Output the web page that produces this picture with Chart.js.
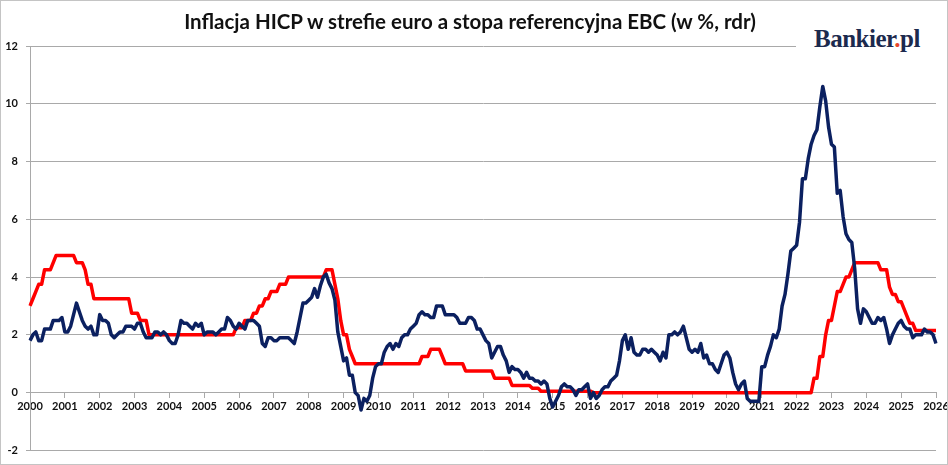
<!DOCTYPE html>
<html>
<head>
<meta charset="utf-8">
<script src="https://cdn.jsdelivr.net/npm/chart.js@4"></script>
<style>
  html, body { margin: 0; padding: 0; background: #fff; }
  #wrap { position: relative; width: 948px; height: 465px; overflow: hidden; }
  #title {
    position: absolute; left: 0; width: 940px; top: 9px; text-align: center;
    font: bold 20.5px 'Lato', sans-serif; color: #111;
  }
  #logo {
    position: absolute; left: 796px; top: 25px; width: 150px; height: 30px;
    background: #fff; font: bold 25px 'Liberation Serif', serif; color: #1c2a4e;
    padding-left: 18px; box-sizing: border-box; letter-spacing: -0.5px;
  }
  #logo span { color: #e8482c; }
  #frame { position: absolute; inset: 0; border: 1px solid #c4c4c4; pointer-events: none; }
</style>
</head>
<body>
<div id="wrap">
  <canvas id="c" width="948" height="465"></canvas>
  <div id="title">Inflacja HICP w strefie euro a stopa referencyjna EBC (w %, rdr)</div>
  <div id="logo">Bankier<span>.</span>pl</div>
  <div id="frame"></div>
</div>
<script>
/* ── Data: monthly, Jan 2000 – Jan 2026 ─────────────── */
const months = [];
for (let y = 2000; y <= 2025; y++) {
    for (let m = 1; m <= 12; m++) months.push(y + '-' + String(m).padStart(2, '0'));
}
months.push('2026-01');

const yTicks = [-2, 0, 2, 4, 6, 8, 10, 12];

// HICP, euro area, % y/y
const hicp = [
    1.8, 2.0, 2.1, 1.8, 1.8, 2.2, 2.2, 2.2, 2.5, 2.5, 2.5, 2.6,
    2.1, 2.1, 2.3, 2.7, 3.1, 2.8, 2.5, 2.3, 2.2, 2.3, 2.0, 2.0,
    2.7, 2.5, 2.5, 2.4, 2.0, 1.9, 2.0, 2.1, 2.1, 2.3, 2.3, 2.3,
    2.2, 2.4, 2.4, 2.1, 1.9, 1.9, 1.9, 2.1, 2.1, 2.0, 2.1, 2.0,
    1.8, 1.7, 1.7, 2.0, 2.5, 2.4, 2.4, 2.3, 2.2, 2.4, 2.3, 2.4,
    2.0, 2.1, 2.1, 2.1, 2.0, 2.1, 2.2, 2.2, 2.6, 2.5, 2.3, 2.2,
    2.4, 2.3, 2.2, 2.5, 2.5, 2.5, 2.4, 2.3, 1.7, 1.6, 1.9, 1.9,
    1.8, 1.8, 1.9, 1.9, 1.9, 1.9, 1.8, 1.7, 2.1, 2.6, 3.1, 3.1,
    3.2, 3.3, 3.6, 3.3, 3.7, 4.0, 4.1, 3.8, 3.6, 3.2, 2.1, 1.6,
    1.1, 1.2, 0.6, 0.6, 0.0, -0.1, -0.6, -0.2, -0.3, -0.1, 0.5, 0.9,
    1.0, 1.0, 1.4, 1.6, 1.7, 1.5, 1.7, 1.6, 1.9, 2.0, 2.0, 2.2,
    2.3, 2.4, 2.7, 2.8, 2.7, 2.7, 2.6, 2.6, 3.0, 3.0, 3.0, 2.7,
    2.7, 2.7, 2.7, 2.6, 2.4, 2.4, 2.4, 2.6, 2.6, 2.5, 2.2, 2.2,
    2.0, 1.8, 1.7, 1.2, 1.4, 1.6, 1.6, 1.3, 1.1, 0.7, 0.9, 0.8,
    0.8, 0.7, 0.5, 0.7, 0.5, 0.5, 0.4, 0.4, 0.3, 0.4, 0.3, -0.2,
    -0.5, -0.3, -0.1, 0.2, 0.3, 0.2, 0.2, 0.1, -0.1, 0.1, 0.1, 0.2,
    0.3, -0.2, 0.0, -0.2, -0.1, 0.1, 0.2, 0.2, 0.4, 0.5, 0.6, 1.1,
    1.8, 2.0, 1.5, 1.9, 1.4, 1.3, 1.3, 1.5, 1.5, 1.4, 1.5, 1.4,
    1.3, 1.1, 1.4, 1.2, 2.0, 2.0, 2.1, 2.0, 2.1, 2.3, 1.9, 1.5,
    1.4, 1.5, 1.4, 1.7, 1.2, 1.3, 1.0, 1.0, 0.8, 0.7, 1.0, 1.3,
    1.4, 1.2, 0.7, 0.3, 0.1, 0.3, 0.4, -0.2, -0.3, -0.3, -0.3, -0.3,
    0.9, 0.9, 1.3, 1.6, 2.0, 1.9, 2.2, 3.0, 3.4, 4.1, 4.9, 5.0,
    5.1, 5.9, 7.4, 7.4, 8.1, 8.6, 8.9, 9.1, 9.9, 10.6, 10.1, 9.2,
    8.6, 8.5, 6.9, 7.0, 6.1, 5.5, 5.3, 5.2, 4.3, 2.9, 2.4, 2.9,
    2.8, 2.6, 2.4, 2.4, 2.6, 2.5, 2.6, 2.2, 1.7, 2.0, 2.2, 2.4,
    2.5, 2.3, 2.2, 2.2, 1.9, 2.0, 2.0, 2.0, 2.2, 2.1, 2.1, 2.0,
    1.7
];

// ECB main refinancing rate, %
const ecbRate = [
    3.0, 3.25, 3.5, 3.75, 3.75, 4.25, 4.25, 4.25, 4.5, 4.75, 4.75, 4.75,
    4.75, 4.75, 4.75, 4.75, 4.5, 4.5, 4.5, 4.25, 3.75, 3.75, 3.25, 3.25,
    3.25, 3.25, 3.25, 3.25, 3.25, 3.25, 3.25, 3.25, 3.25, 3.25, 3.25, 2.75,
    2.75, 2.75, 2.5, 2.5, 2.5, 2.0, 2.0, 2.0, 2.0, 2.0, 2.0, 2.0,
    2.0, 2.0, 2.0, 2.0, 2.0, 2.0, 2.0, 2.0, 2.0, 2.0, 2.0, 2.0,
    2.0, 2.0, 2.0, 2.0, 2.0, 2.0, 2.0, 2.0, 2.0, 2.0, 2.0, 2.25,
    2.25, 2.25, 2.5, 2.5, 2.5, 2.75, 2.75, 3.0, 3.0, 3.25, 3.25, 3.5,
    3.5, 3.5, 3.75, 3.75, 3.75, 4.0, 4.0, 4.0, 4.0, 4.0, 4.0, 4.0,
    4.0, 4.0, 4.0, 4.0, 4.0, 4.0, 4.25, 4.25, 4.25, 3.75, 3.25, 2.5,
    2.0, 2.0, 1.5, 1.25, 1.0, 1.0, 1.0, 1.0, 1.0, 1.0, 1.0, 1.0,
    1.0, 1.0, 1.0, 1.0, 1.0, 1.0, 1.0, 1.0, 1.0, 1.0, 1.0, 1.0,
    1.0, 1.0, 1.0, 1.25, 1.25, 1.25, 1.5, 1.5, 1.5, 1.5, 1.25, 1.0,
    1.0, 1.0, 1.0, 1.0, 1.0, 1.0, 0.75, 0.75, 0.75, 0.75, 0.75, 0.75,
    0.75, 0.75, 0.75, 0.75, 0.5, 0.5, 0.5, 0.5, 0.5, 0.5, 0.25, 0.25,
    0.25, 0.25, 0.25, 0.25, 0.25, 0.15, 0.15, 0.15, 0.05, 0.05, 0.05, 0.05,
    0.05, 0.05, 0.05, 0.05, 0.05, 0.05, 0.05, 0.05, 0.05, 0.05, 0.05, 0.05,
    0.05, 0.05, 0, 0, 0, 0, 0, 0, 0, 0, 0, 0,
    0, 0, 0, 0, 0, 0, 0, 0, 0, 0, 0, 0,
    0, 0, 0, 0, 0, 0, 0, 0, 0, 0, 0, 0,
    0, 0, 0, 0, 0, 0, 0, 0, 0, 0, 0, 0,
    0, 0, 0, 0, 0, 0, 0, 0, 0, 0, 0, 0,
    0, 0, 0, 0, 0, 0, 0, 0, 0, 0, 0, 0,
    0, 0, 0, 0, 0, 0, 0.5, 0.5, 1.25, 1.25, 2.0, 2.5,
    2.5, 3.0, 3.5, 3.5, 3.75, 4.0, 4.0, 4.25, 4.5, 4.5, 4.5, 4.5,
    4.5, 4.5, 4.5, 4.5, 4.5, 4.25, 4.25, 4.25, 3.65, 3.4, 3.4, 3.15,
    3.15, 2.9, 2.65, 2.4, 2.4, 2.15, 2.15, 2.15, 2.15, 2.15, 2.15, 2.15,
    2.15
];

const axisGrey = '#a9a9a9';
const tickFont = { family: 'Lato', size: 11, weight: 'bold' };

new Chart(document.getElementById('c'), {
    type: 'line',
    data: {
        labels: months,
        datasets: [
            {
                label: 'Inflacja HICP',
                data: hicp,
                borderColor: '#0b2060',
                borderWidth: 3.5,
                borderJoinStyle: 'round',
                pointRadius: 0,
                tension: 0
            },
            {
                label: 'Stopa referencyjna EBC',
                data: ecbRate,
                borderColor: '#ff0000',
                borderWidth: 3.5,
                borderJoinStyle: 'round',
                pointRadius: 0,
                tension: 0
            }
        ]
    },
    options: {
        responsive: false,
        animation: false,
        layout: { padding: { top: 46, bottom: 13, left: 0, right: 12 } },
        plugins: { legend: { display: false }, tooltip: { enabled: false } },
        scales: {
            x: {
                type: 'category',
                position: { y: 0 },
                offset: false,
                border: { color: axisGrey },
                grid: {
                    drawOnChartArea: false,
                    tickLength: 5,
                    tickColor: ctx => (months[ctx.index] || '').endsWith('-01') ? axisGrey : 'rgba(0,0,0,0)'
                },
                ticks: {
                    autoSkip: false,
                    maxRotation: 0,
                    minRotation: 0,
                    padding: 2,
                    color: '#111',
                    font: tickFont,
                    callback: (v, i) => months[i].endsWith('-01') ? months[i].slice(0, 4) : ''
                },
                afterFit: s => { s.paddingLeft = 0; s.paddingRight = 0; }
            },
            y: {
                min: yTicks[0],
                max: yTicks[yTicks.length - 1],
                border: { color: axisGrey },
                grid: { color: axisGrey, tickLength: 4 },
                afterBuildTicks: s => { s.ticks = yTicks.map(v => ({ value: v })); },
                ticks: { padding: 8, color: '#111', font: tickFont },
                afterFit: s => { s.width = 30; }
            }
        }
    }
});
</script>
</body>
</html>
